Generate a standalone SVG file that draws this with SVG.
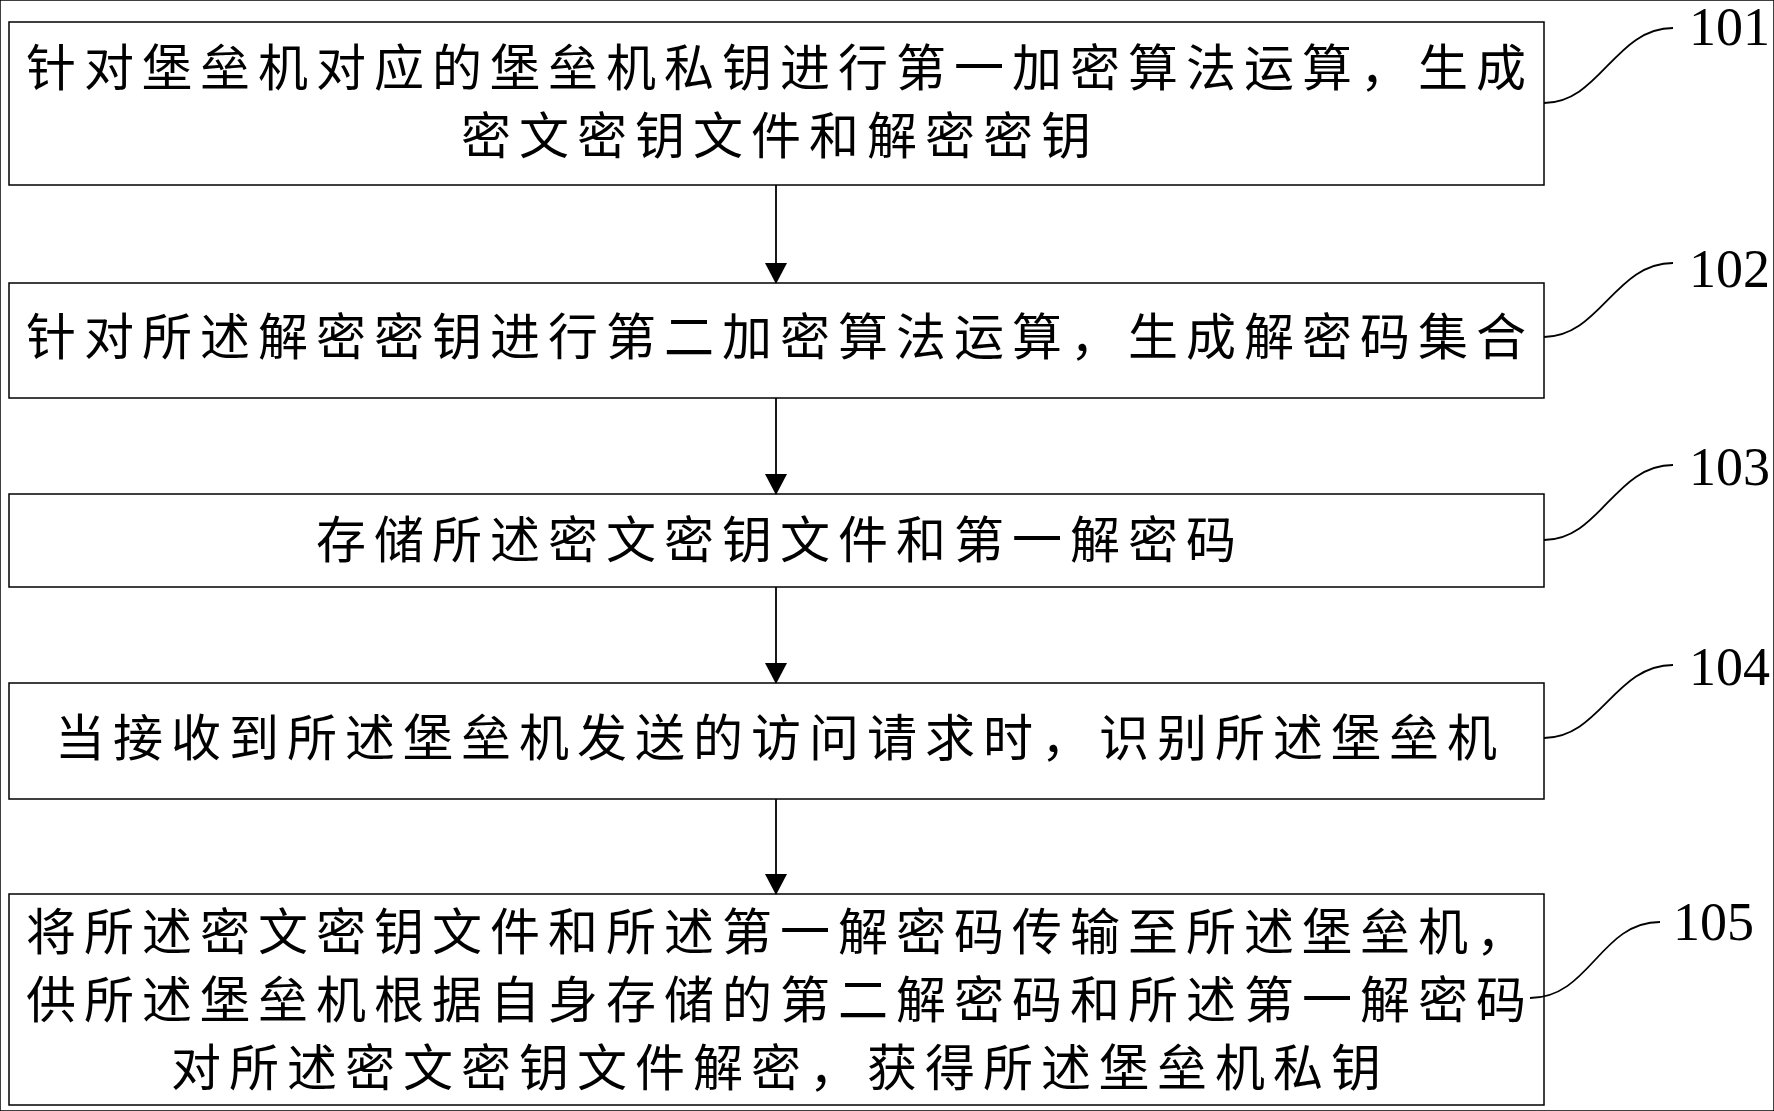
<svg xmlns="http://www.w3.org/2000/svg" width="1774" height="1111" viewBox="0 0 1774 1111">
<style>
rect{fill:#fff;stroke:#000;stroke-width:1.5}
.t{font-family:"Noto Sans CJK SC",sans-serif;font-size:50px;letter-spacing:8px;text-anchor:middle;fill:#000}
.n{font-family:"Liberation Serif",serif;font-size:54px;fill:#000}
.c{fill:none;stroke:#000;stroke-width:1.8}
</style>
<defs><marker id="a" markerWidth="22" markerHeight="22" refX="20" refY="11" orient="auto" markerUnits="userSpaceOnUse"><path d="M0,0 L21,11 L0,22 Z" fill="#000"/></marker></defs>
<rect width="1774" height="1111" fill="#fff" stroke="none"/>
<g id="n101"><rect x="9" y="22" width="1535" height="163"/><text class="t" x="780" y="86">针对堡垒机对应的堡垒机私钥进行第一加密算法运算，生成</text><text class="t" x="780" y="154">密文密钥文件和解密密钥</text><text class="n" x="1689" y="45">101</text></g>
<g id="n102"><rect x="9" y="283" width="1535" height="115"/><text class="t" x="780" y="355">针对所述解密密钥进行第二加密算法运算，生成解密码集合</text><text class="n" x="1689" y="287">102</text></g>
<g id="n103"><rect x="9" y="494" width="1535" height="93"/><text class="t" x="780" y="558">存储所述密文密钥文件和第一解密码</text><text class="n" x="1689" y="485">103</text></g>
<g id="n104"><rect x="9" y="683" width="1535" height="116"/><text class="t" x="780" y="756">当接收到所述堡垒机发送的访问请求时，识别所述堡垒机</text><text class="n" x="1689" y="685">104</text></g>
<g id="n105"><rect x="9" y="894" width="1535" height="211"/><text class="t" x="780" y="950">将所述密文密钥文件和所述第一解密码传输至所述堡垒机，</text><text class="t" x="780" y="1018">供所述堡垒机根据自身存储的第二解密码和所述第一解密码</text><text class="t" x="780" y="1086">对所述密文密钥文件解密，获得所述堡垒机私钥</text><text class="n" x="1673" y="940">105</text></g>
<g id="connectors">
<path class="c" d="M776 185 V283" marker-end="url(#a)"/>
<path class="c" d="M776 398 V494" marker-end="url(#a)"/>
<path class="c" d="M776 587 V683" marker-end="url(#a)"/>
<path class="c" d="M776 799 V894" marker-end="url(#a)"/>
<path class="c" d="M1544 103 C1600 103,1615 28,1673 28"/>
<path class="c" d="M1544 337 C1600 337,1615 263,1673 263"/>
<path class="c" d="M1544 540 C1600 540,1615 465,1673 465"/>
<path class="c" d="M1544 738 C1600 738,1615 665,1673 665"/>
<path class="c" d="M1530 998 C1590 998,1600 922,1660 922"/>
</g>
</svg>
